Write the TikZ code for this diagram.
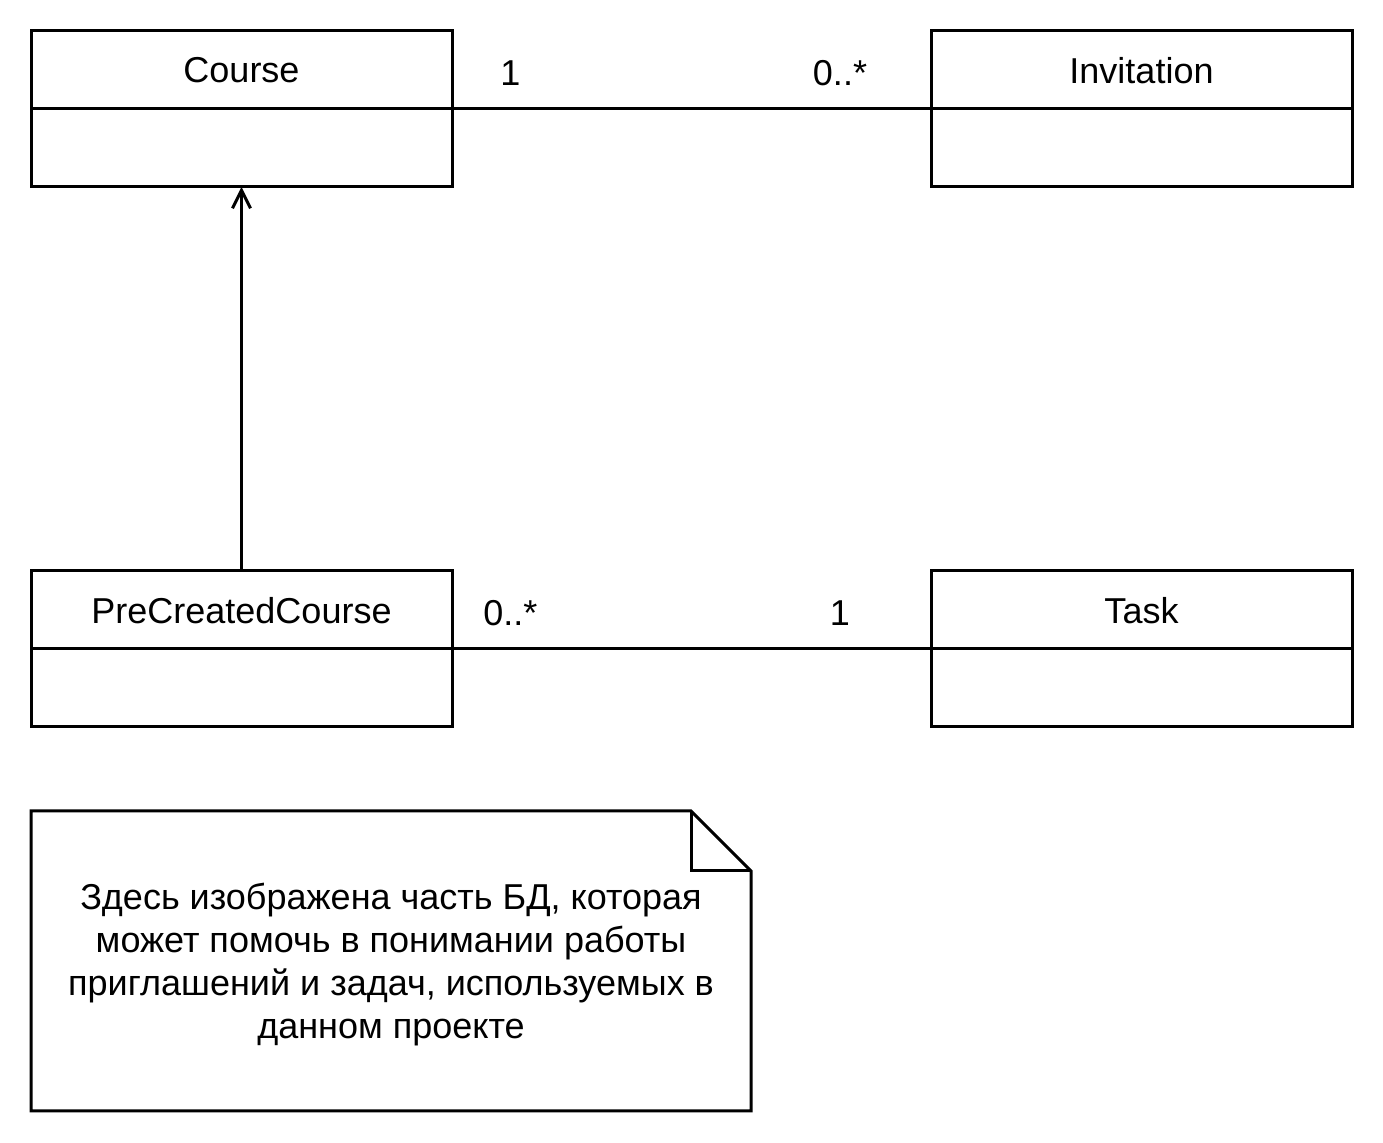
\documentclass[tikz,border=0pt]{standalone}
\usepackage{fontspec}
\setmainfont{Liberation Sans}
\usetikzlibrary{positioning,arrows.meta}

\begin{document}
\begin{tikzpicture}[x=0.5pt,y=0.5pt,yscale=-1,xscale=1,
    every node/.style={font=\fontsize{18pt}{21.5pt}\selectfont},
    classhead/.style={draw,line width=1.5pt,minimum width=210.5pt,minimum height=39pt,inner sep=0pt,outer sep=0pt,text depth=-1pt},
    classbody/.style={draw,line width=1.5pt,minimum width=210.5pt,minimum height=39pt,inner sep=0pt,outer sep=0pt},
    assoc/.style={line width=1.5pt},
    mult/.style={inner sep=0pt,yshift=18pt}]
                \useasboundingbox (0,0) rectangle (1383,1143);
                % Classes
                \node [classhead] (course) at (241.5,70) {Course};
                \node [classbody,below=0pt of course] (coursebody) {};
                \node [classhead] (invitation) at (1141.5,70) {Invitation};
                \node [classbody,below=0pt of invitation] (invitationbody) {};
                \node [classhead] (precreated) at (241.5,610) {PreCreatedCourse};
                \node [classbody,below=0pt of precreated] (precreatedbody) {};
                \node [classhead] (task) at (1141.5,610) {Task};
                \node [classbody,below=0pt of task] (taskbody) {};
                % Associations
                \draw [assoc] (course.south east) -- node[mult,pos=0.122] {1} node[mult,pos=0.81] {0..*} (invitation.south west);
                \draw [assoc] (precreated.south east) -- node[mult,pos=0.122] {0..*} node[mult,pos=0.81] {1} (task.south west);
                % Generalisation
                \draw [assoc,-{Straight Barb[length=9pt,width=9pt,line width=1.5pt]}] (precreated.north) -- (coursebody.south);
                % Note
                \coordinate (noteNW) at (31,811);
                \coordinate (noteFold) at (691,811);
                \coordinate (noteFoldIn) at (691,871);
                \coordinate (noteNE) at (751,871);
                \coordinate (noteSE) at (751,1111);
                \coordinate (noteSW) at (31,1111);
                \draw [line width=1.5pt,line join=miter] (noteNW) -- (noteFold) -- (noteNE) -- (noteSE) -- (noteSW) -- cycle;
                \draw [line width=1.5pt] (noteFold) -- (noteFoldIn) -- (noteNE);
                % Text Node
                \node [align=center,inner sep=0pt] (notetext) at (391,965) {Здесь изображена часть БД, которая\\может помочь в понимании работы\\приглашений и задач, используемых в\\данном проекте};
\end{tikzpicture}
\end{document}
